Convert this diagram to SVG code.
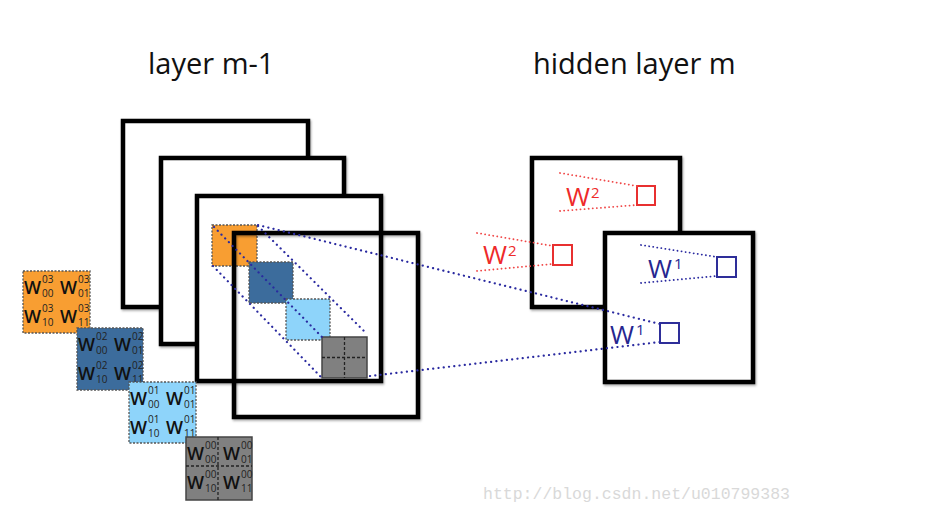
<svg xmlns="http://www.w3.org/2000/svg" width="935" height="516" viewBox="0 0 935 516">
<defs>
<filter id="sh" x="-5%" y="-5%" width="115%" height="115%">
<feDropShadow dx="1" dy="1.5" stdDeviation="1" flood-color="#000" flood-opacity="0.35"/>
</filter>
</defs>
<style>
.title{font-family:"Open Sans","DejaVu Sans",sans-serif;font-size:29px;fill:#111}
.frame{fill:#fff;stroke:#000;stroke-width:4.5}
.frameo{fill:none;stroke:#000;stroke-width:4.5}
.mat{stroke:#555;stroke-width:1.3;stroke-dasharray:2 1.5}
.matg{fill:#808080;stroke:#444;stroke-width:1.5}
.cross{stroke:#222;stroke-width:1.3;stroke-dasharray:3 2;fill:none}
.mw{font-family:"Open Sans","DejaVu Sans",sans-serif;font-size:18px;font-weight:600;fill:#111}
.ms{font-family:"Open Sans","DejaVu Sans",sans-serif;font-size:10px;fill:#222}
.bdot{stroke:#2a2aa0;stroke-width:2.2;stroke-dasharray:0.1 5.2;stroke-linecap:round;fill:none}
.rdot{stroke:#f04848;stroke-width:1.8;stroke-dasharray:0.1 4;stroke-linecap:round;fill:none}
.rsq{fill:none;stroke:#e83030;stroke-width:2}
.bsq{fill:none;stroke:#2e2e99;stroke-width:2}
.rw{font-family:"Open Sans","DejaVu Sans",sans-serif;font-size:26px;fill:#ee2a2a}
.rs{font-family:"Open Sans","DejaVu Sans",sans-serif;font-size:15px;fill:#ee2a2a}
.bw{font-family:"Open Sans","DejaVu Sans",sans-serif;font-size:26px;fill:#26268f}
.bs{font-family:"Open Sans","DejaVu Sans",sans-serif;font-size:15px;fill:#26268f}
.wm{font-family:"Liberation Mono","DejaVu Sans Mono",monospace;font-size:16.5px;fill:#d9d9d9}
</style>
<rect width="935" height="516" fill="#fff"/>

<g id="titles">
<text class="title" x="148" y="74">layer m-1</text>
<text class="title" x="533" y="74">hidden layer m</text>
</g>

<g id="layer-m-1">
<rect class="frame" filter="url(#sh)" x="123" y="121" width="185" height="186"/>
<rect class="frame" filter="url(#sh)" x="161" y="158" width="183" height="186"/>
<rect class="frame" filter="url(#sh)" x="197" y="196" width="184" height="185"/>
<g id="receptive-fields">
<rect class="mat" fill="#f89e32" x="212" y="225" width="45" height="41"/>
<rect class="mat" fill="#3c6c9c" x="249" y="262" width="44" height="41"/>
<rect class="mat" fill="#8ed4fa" x="286" y="299" width="44" height="41"/>
<rect class="matg" x="322" y="337" width="45" height="41"/>
<line class="cross" x1="344.5" y1="337" x2="344.5" y2="378"/>
<line class="cross" x1="322" y1="357.5" x2="367" y2="357.5"/>
</g>
<rect class="frameo" filter="url(#sh)" x="234" y="233" width="184" height="184"/>
</g>

<g id="hidden-layer-m">
<rect class="frame" filter="url(#sh)" x="532" y="158" width="148" height="149"/>
<rect class="frame" filter="url(#sh)" x="605" y="233" width="148" height="149"/>
<rect class="rsq" x="637" y="186" width="18" height="19"/>
<rect class="rsq" x="553" y="245" width="19" height="20"/>
<rect class="bsq" x="717" y="257" width="19" height="20"/>
<rect class="bsq" x="660" y="323" width="19" height="20"/>
</g>

<g id="connectors">
<line class="bdot" x1="214" y1="227" x2="322" y2="337"/>
<line class="bdot" x1="213" y1="266" x2="321" y2="377"/>
<line class="bdot" x1="258" y1="226" x2="367" y2="334"/>
<line class="bdot" x1="258" y1="225" x2="660" y2="324"/>
<line class="bdot" x1="370" y1="376" x2="660" y2="342"/>
<line class="rdot" x1="560" y1="173" x2="637" y2="186"/>
<line class="rdot" x1="560" y1="211" x2="637" y2="205"/>
<line class="rdot" x1="477" y1="233" x2="553" y2="246"/>
<line class="rdot" x1="477" y1="271" x2="553" y2="264"/>
<line class="bdot" style="stroke-width:1.8;stroke-dasharray:0.1 4" x1="641" y1="245" x2="717" y2="257"/>
<line class="bdot" style="stroke-width:1.8;stroke-dasharray:0.1 4" x1="641" y1="283" x2="717" y2="276"/>
</g>

<g id="weight-labels">
<text class="rw" x="566" y="206">W</text><text class="rs" x="591" y="198">2</text>
<text class="rw" x="483" y="264">W</text><text class="rs" x="508" y="256">2</text>
<text class="bw" x="648" y="278">W</text><text class="bs" x="674" y="269">1</text>
<text class="bw" x="610" y="344">W</text><text class="bs" x="636" y="335">1</text>
</g>

<g id="matrix-03" transform="translate(23,271)">
<rect class="mat" fill="#f89e32" x="0" y="0" width="67" height="62"/>
<text class="mw" x="1" y="23">W</text><text class="ms" x="19" y="12">03</text><text class="ms" x="19" y="26">00</text>
<text class="mw" x="37" y="23">W</text><text class="ms" x="55" y="12">03</text><text class="ms" x="55" y="26">01</text>
<text class="mw" x="1" y="52">W</text><text class="ms" x="19" y="41">03</text><text class="ms" x="19" y="55">10</text>
<text class="mw" x="37" y="52">W</text><text class="ms" x="55" y="41">03</text><text class="ms" x="55" y="55">11</text>
</g>
<g id="matrix-02" transform="translate(77,328)">
<rect class="mat" fill="#3c6c9c" x="0" y="0" width="66" height="62"/>
<text class="mw" x="1" y="23">W</text><text class="ms" x="19" y="12">02</text><text class="ms" x="19" y="26">00</text>
<text class="mw" x="37" y="23">W</text><text class="ms" x="55" y="12">02</text><text class="ms" x="55" y="26">01</text>
<text class="mw" x="1" y="52">W</text><text class="ms" x="19" y="41">02</text><text class="ms" x="19" y="55">10</text>
<text class="mw" x="37" y="52">W</text><text class="ms" x="55" y="41">02</text><text class="ms" x="55" y="55">11</text>
</g>
<g id="matrix-01" transform="translate(129,382)">
<rect class="mat" fill="#8ed4fa" x="0" y="0" width="67" height="61"/>
<text class="mw" x="1" y="23">W</text><text class="ms" x="19" y="12">01</text><text class="ms" x="19" y="26">00</text>
<text class="mw" x="37" y="23">W</text><text class="ms" x="55" y="12">01</text><text class="ms" x="55" y="26">01</text>
<text class="mw" x="1" y="52">W</text><text class="ms" x="19" y="41">01</text><text class="ms" x="19" y="55">10</text>
<text class="mw" x="37" y="52">W</text><text class="ms" x="55" y="41">01</text><text class="ms" x="55" y="55">11</text>
</g>
<g id="matrix-00" transform="translate(186,437)">
<rect class="matg" x="0" y="0" width="66" height="63"/>
<line class="cross" x1="32" y1="0" x2="32" y2="63"/>
<line class="cross" x1="0" y1="29" x2="66" y2="29"/>
<text class="mw" x="1" y="23">W</text><text class="ms" x="19" y="12">00</text><text class="ms" x="19" y="26">00</text>
<text class="mw" x="37" y="23">W</text><text class="ms" x="55" y="12">00</text><text class="ms" x="55" y="26">01</text>
<text class="mw" x="1" y="52">W</text><text class="ms" x="19" y="41">00</text><text class="ms" x="19" y="55">10</text>
<text class="mw" x="37" y="52">W</text><text class="ms" x="55" y="41">00</text><text class="ms" x="55" y="55">11</text>
</g>

<text class="wm" x="483" y="499">http://blog.csdn.net/u010799383</text>
</svg>
